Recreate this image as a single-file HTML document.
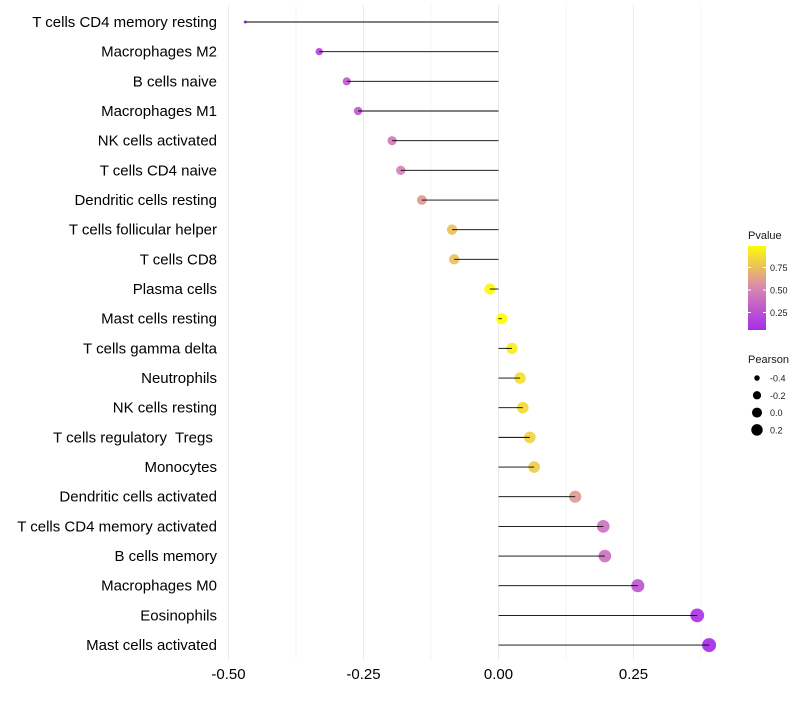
<!DOCTYPE html>
<html><head><meta charset="utf-8"><style>
body{margin:0;background:#fff;font-family:"Liberation Sans",sans-serif}
svg text{font-family:"Liberation Sans",sans-serif;white-space:pre}
</style></head><body>
<svg id="c" width="800" height="700"></svg>
<script>
const categories=["T cells CD4 memory resting","Macrophages M2","B cells naive","Macrophages M1","NK cells activated","T cells CD4 naive","Dendritic cells resting","T cells follicular helper","T cells CD8","Plasma cells","Mast cells resting","T cells gamma delta","Neutrophils","NK cells resting","T cells regulatory  Tregs ","Monocytes","Dendritic cells activated","T cells CD4 memory activated","B cells memory","Macrophages M0","Eosinophils","Mast cells activated"];
const pearson=[-0.469,-0.332,-0.281,-0.260,-0.197,-0.181,-0.142,-0.086,-0.082,-0.016,0.006,0.025,0.040,0.045,0.058,0.066,0.142,0.194,0.197,0.258,0.368,0.390];
const pvalue=[0.02,0.2,0.3,0.3,0.45,0.5,0.6,0.75,0.75,0.97,0.99,0.93,0.88,0.85,0.82,0.8,0.6,0.42,0.42,0.28,0.1,0.06];
const xTicks=[-0.5,-0.25,0,0.25];
const xTickLabels=["-0.50","-0.25","0.00","0.25"];
const pTicks=[0.25,0.5,0.75];
const sizeTicks=[-0.4,-0.2,0.0,0.2];
const NS="http://www.w3.org/2000/svg";
const svg=document.getElementById('c');
function el(t,a,p){const e=document.createElementNS(NS,t);for(const k in a)e.setAttribute(k,a[k]);(p||svg).appendChild(e);return e;}
const x=v=>498.5+v*540;
const y=i=>22+i*29.67;
const pmin=Math.min(...pearson),pmax=Math.max(...pearson);
const r=v=>{const t=Math.max(0,(v-pmin)/(pmax-pmin));return 1.5+5.5*Math.sqrt(t);};
function lerp(a,b,t){return a.map((c,i)=>Math.round(c+(b[i]-c)*t));}
function col(p){const s=[[160,32,240],[214,130,184],[255,255,0]];const c=p<0.5?lerp(s[0],s[1],p/0.5):lerp(s[1],s[2],(p-0.5)/0.5);return `rgb(${c.join(',')})`;}
for(let v=-0.5;v<=0.38;v+=0.125){const g=el('line',{x1:x(v),x2:x(v),y1:5,y2:660,stroke:'#ebebeb','stroke-width':Math.abs(v*4-Math.round(v*4))<1e-6?1:0.5});

}
for(let i=0;i<categories.length;i++){
 const c=el('circle',{cx:x(pearson[i]),cy:y(i),r:r(pearson[i]),fill:col(pvalue[i]),opacity:0.92});
 
 
 const l=el('line',{x1:x(0),x2:x(pearson[i]),y1:y(i),y2:y(i),stroke:'#000','stroke-width':0.9});
 
 
 const t=el('text',{x:217,y:y(i)+5,'text-anchor':'end','font-size':15,fill:'#000'});t.textContent=categories[i];
 
 
}
xTicks.forEach((v,i)=>{const t=el('text',{x:x(v),y:679,'text-anchor':'middle','font-size':15,fill:'#000'});t.textContent=xTickLabels[i];

});
const defs=el('defs',{});const lg=el('linearGradient',{id:'pg',x1:0,y1:1,x2:0,y2:0},defs);
[[0,0.06],[0.5,0.52],[1,0.98]].forEach(([o,p])=>el('stop',{offset:o,'stop-color':col(p)},lg));
const lt=el('text',{x:748,y:239,'font-size':11,fill:'#1a1a1a'});lt.textContent='Pvalue';


const bar=el('rect',{x:748,y:246,width:18,height:84,fill:'url(#pg)'});


const py=p=>335-p*90;
pTicks.forEach(p=>{el('line',{x1:748,x2:751,y1:py(p),y2:py(p),stroke:'#fff'});el('line',{x1:763,x2:766,y1:py(p),y2:py(p),stroke:'#fff'});
const t=el('text',{x:770,y:py(p)+3.5,'font-size':9,fill:'#1a1a1a'});t.textContent=p.toFixed(2);

});
const st=el('text',{x:748,y:363,'font-size':11,fill:'#1a1a1a'});st.textContent='Pearson';


sizeTicks.forEach((v,i)=>{const cy=378+i*17.3;const c=el('circle',{cx:757,cy:cy,r:r(v)*0.9,fill:'#000'});


const t=el('text',{x:770,y:cy+3.5,'font-size':9,fill:'#1a1a1a'});t.textContent=v.toFixed(1);

});
</script>
</body></html>
